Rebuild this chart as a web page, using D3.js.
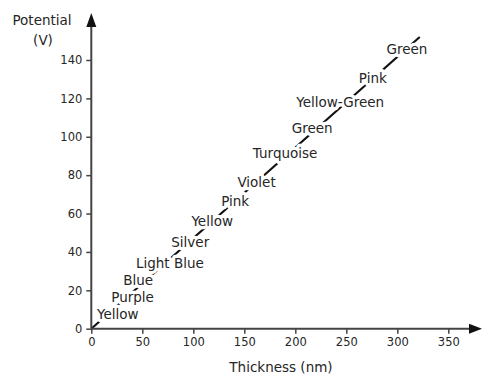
<!DOCTYPE html>
<html>
<head>
<meta charset="utf-8">
<script src="https://cdn.jsdelivr.net/npm/d3@7"></script>
<style>
  html, body { margin: 0; padding: 0; background: #fff; }
  svg { display: block; }
</style>
</head>
<body>
<svg id="chart" width="482" height="374"></svg>
<script>
// ---- data ----
const lineStart = [0, 0];          // [thickness nm, potential V]
const lineEnd = [322, 152];
const labelNames = ["Yellow", "Purple", "Blue", "Light Blue", "Silver", "Yellow", "Pink",
  "Violet", "Turquoise", "Green", "Yellow-Green", "Pink", "Green"];
const labelThickness = [26, 40.5, 46, 77, 97, 118.5, 141, 162, 190, 216.5, 244, 276, 309.5];
const labelPotential = [7.7, 16.5, 25.4, 34.2, 45.2, 56.1, 66.5, 76.4, 91.6, 104.6, 118.1, 130.6, 145.8];
const xTicks = [0, 50, 100, 150, 200, 250, 300, 350];
const yTicks = [0, 20, 40, 60, 80, 100, 120, 140];
const xTitle = "Thickness (nm)";
const yTitle = ["Potential", "(V)"];

// ---- drawing ----
const svg = d3.select("#chart");
const axisColor = "#444";
const textColor = "#262626";
const font = "DejaVu Sans, Verdana, sans-serif";

const x = d3.scaleLinear().domain([0, 350]).range([91.3, 448.3]);
const y = d3.scaleLinear().domain([0, 140]).range([328.7, 60]);

// diagonal line
svg.append("line")
  .attr("x1", x(lineStart[0])).attr("y1", y(lineStart[1]))
  .attr("x2", x(lineEnd[0])).attr("y2", y(lineEnd[1]))
  .attr("stroke", "#111").attr("stroke-width", 2.2);

// labels with white halo
const labels = labelNames.map((n, i) => ({ n, t: labelThickness[i], p: labelPotential[i] }));
svg.append("g").selectAll("text").data(labels).join("text")
  .attr("x", d => x(d.t)).attr("y", d => y(d.p))
  .attr("text-anchor", "middle").attr("dominant-baseline", "central")
  .attr("font-family", font).attr("font-size", 13.5)
  .attr("fill", textColor)
  .attr("stroke", "#fff").attr("stroke-width", 6.5).attr("paint-order", "stroke")
  .attr("stroke-linejoin", "round")
  .text(d => d.n);

// x axis
const xAxis = d3.axisBottom(x).tickValues(xTicks).tickSize(5).tickPadding(4);
const gx = svg.append("g").attr("transform", `translate(0,${y(0)})`).call(xAxis);
gx.select(".domain").remove();
gx.selectAll(".tick line").attr("stroke", axisColor).attr("stroke-width", 1.5);
gx.selectAll(".tick text").attr("font-family", font).attr("font-size", 11.5).attr("fill", textColor);

// y axis
const yAxis = d3.axisLeft(y).tickValues(yTicks).tickSize(5).tickPadding(4);
const gy = svg.append("g").attr("transform", `translate(${x(0)},0)`).call(yAxis);
gy.select(".domain").remove();
gy.selectAll(".tick line").attr("stroke", axisColor).attr("stroke-width", 1.5);
gy.selectAll(".tick text").attr("font-family", font).attr("font-size", 11.5).attr("fill", textColor);

// axis lines with arrows
svg.append("line").attr("x1", x(0)).attr("y1", y(0)).attr("x2", 472).attr("y2", y(0))
  .attr("stroke", axisColor).attr("stroke-width", 2);
svg.append("path")
  .attr("d", `M482,${y(0)} L469,${y(0) - 5} L469,${y(0) + 5} Z`).attr("fill", "#111");
svg.append("line").attr("x1", x(0)).attr("y1", y(0)).attr("x2", x(0)).attr("y2", 24)
  .attr("stroke", axisColor).attr("stroke-width", 2);
svg.append("path")
  .attr("d", `M${x(0)},13 L${x(0) - 5},27 L${x(0) + 5},27 Z`).attr("fill", "#111");

// titles
svg.append("text").attr("x", 281).attr("y", 367)
  .attr("text-anchor", "middle").attr("dominant-baseline", "central")
  .attr("font-family", font).attr("font-size", 13.5).attr("fill", textColor)
  .text(xTitle);
svg.append("text").attr("x", 42).attr("y", 20)
  .attr("text-anchor", "middle").attr("dominant-baseline", "central")
  .attr("font-family", font).attr("font-size", 13.5).attr("fill", textColor)
  .text(yTitle[0]);
svg.append("text").attr("x", 43).attr("y", 40)
  .attr("text-anchor", "middle").attr("dominant-baseline", "central")
  .attr("font-family", font).attr("font-size", 13.5).attr("fill", textColor)
  .text(yTitle[1]);
</script>
</body>
</html>
